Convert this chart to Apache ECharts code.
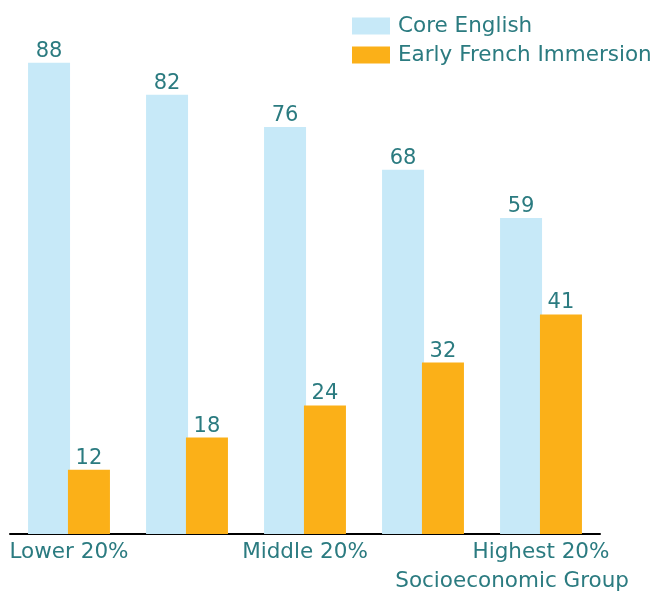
<!DOCTYPE html>
<html>
<head>
<meta charset="utf-8">
<script src="https://cdn.jsdelivr.net/npm/echarts@6/dist/echarts.min.js"></script>
<style>
  html, body { margin: 0; padding: 0; background: #fff; }
  #chart { width: 657px; height: 592px; }
</style>
</head>
<body>
<div id="chart"></div>
<script>
var categories = ['Lower 20%', 'Lower-middle 20%', 'Middle 20%', 'Upper-middle 20%', 'Highest 20%'];
var coreEnglish = [88, 82, 76, 68, 59];
var frenchImmersion = [12, 18, 24, 32, 41];

var textColor = '#2b7b80';
var font = 'DejaVu Sans';

var chart = echarts.init(document.getElementById('chart'));
chart.setOption({
  animation: false,
  textStyle: { fontFamily: font },
  grid: { left: 10, right: 57, top: 52, bottom: 58, containLabel: false },
  legend: {
    orient: 'vertical',
    left: 347,
    top: 10,
    itemWidth: 38,
    itemHeight: 17,
    itemGap: 7,
    icon: 'rect',
    textStyle: { color: textColor, fontSize: 21.5, lineHeight: 17, fontFamily: font, padding: [0, 0, 0, 3] },
    data: ['Core English', 'Early French Immersion']
  },
  xAxis: {
    type: 'category',
    data: categories,
    axisLine: { lineStyle: { color: '#000', width: 2 } },
    axisTick: { show: false },
    axisLabel: { interval: 1, color: textColor, fontSize: 21.5, fontFamily: font, margin: 7 },
    name: 'Socioeconomic Group',
    nameLocation: 'end',
    nameGap: 29,
    nameTextStyle: { color: textColor, fontSize: 21.5, fontFamily: font, align: 'right', verticalAlign: 'top', padding: [36, 0, 0, 0] }
  },
  yAxis: {
    type: 'value',
    min: 0,
    max: 90,
    show: false,
    splitLine: { show: false }
  },
  series: [
    {
      name: 'Core English',
      type: 'bar',
      data: coreEnglish,
      barWidth: 42,
      barGap: '-5%',
      itemStyle: { color: '#c7e9f8' },
      label: { show: true, position: 'top', distance: 1, color: textColor, fontSize: 21, fontFamily: font }
    },
    {
      name: 'Early French Immersion',
      type: 'bar',
      data: frenchImmersion,
      barWidth: 42,
      itemStyle: { color: '#fbb018' },
      label: { show: true, position: 'top', distance: 1, color: textColor, fontSize: 21, fontFamily: font }
    }
  ]
});
</script>
</body>
</html>
